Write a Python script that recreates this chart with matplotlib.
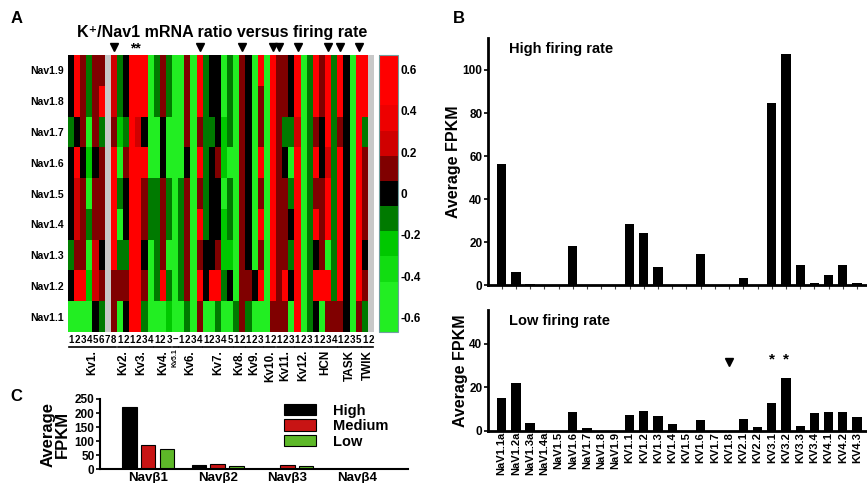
import numpy as np
import matplotlib.pyplot as plt
from matplotlib.colors import ListedColormap, BoundaryNorm
from matplotlib.transforms import blended_transform_factory

plt.rcParams['font.family'] = ['Liberation Sans', 'DejaVu Sans']
plt.rcParams['font.weight'] = 'bold'

nan = np.nan

# ---- panel A: K+/Nav1 ratio heatmap (rows top->bottom) ----
nav_rows = ["Nav1.9", "Nav1.8", "Nav1.7", "Nav1.6", "Nav1.5", "Nav1.4", "Nav1.3", "Nav1.2", "Nav1.1"]
kv_groups = ["Kv1.", "Kv2.", "Kv3.", "Kv4.", "Kv5.1", "Kv6.", "Kv7.", "Kv8.", "Kv9.",
             "Kv10.", "Kv11.", "Kv12.", "HCN", "TASK", "TWIK"]
kv_subunits = ["12345678", "12", "1234", "123", "–", "1234", "12345", "12", "123",
               "12", "123", "123", "1234", "1235", "12"]

ratio = [
    [0, .55, .12, -.12, .12, .12, nan, .24, -.12, 0, .55, .55, .55, -.55, -.12, .12, -.12, -.55, -.55, .12,
     -.55, .55, -.12, 0, 0, -.55, -.12, -.55, .12, 0, -.55, .55, -.55, .55, .12, .12, 0, .55, -.55, -.12,
     .55, .12, .55, -.12, .55, 0, -.55, .55, .55, nan],
    [0, .55, .12, -.12, .12, .55, nan, .24, -.12, 0, .55, .55, .55, -.55, -.12, .12, -.12, -.55, -.55, .12,
     -.55, .55, -.12, 0, 0, -.55, -.12, -.55, .12, 0, -.55, .12, -.55, .55, .12, .12, 0, .55, -.55, -.12,
     .55, .12, .55, -.12, .55, 0, -.55, .55, .55, nan],
    [-.12, 0, .12, -.55, .12, -.12, nan, .12, -.24, -.12, .55, .24, 0, -.55, -.55, 0, -.55, -.55, -.55, .12,
     -.55, .12, -.12, -.12, 0, -.24, -.12, -.55, .12, 0, -.55, .12, -.55, .55, .12, -.12, -.12, .24, -.55, -.12,
     .12, 0, .55, -.12, .12, 0, -.55, .55, -.12, nan],
    [0, .55, 0, -.24, 0, .12, nan, .55, -.55, .12, .55, .55, .55, -.55, -.55, 0, -.55, -.55, -.55, 0,
     -.55, .55, -.12, 0, .12, -.24, -.55, -.55, .12, 0, -.55, .55, -.55, .55, .12, 0, -.55, .55, -.55, -.12,
     .55, 0, .24, -.12, .55, 0, -.55, .55, .12, nan],
    [0, .24, .12, -.55, .12, .12, nan, .55, -.12, 0, .55, .55, .12, -.12, -.12, .12, -.12, -.55, -.12, .12,
     -.55, .12, -.12, 0, 0, -.55, -.12, -.55, .12, 0, -.55, .12, -.55, .55, .12, .12, -.12, .55, -.55, -.12,
     .12, .12, .55, -.12, .55, 0, -.55, .55, .12, nan],
    [0, .24, .12, -.12, .12, .12, nan, .55, -.55, 0, .55, .55, .12, -.12, -.12, .12, -.12, -.55, -.12, .12,
     -.55, .55, -.12, 0, 0, -.24, -.12, -.55, .12, 0, -.55, .55, -.55, .55, .12, .12, 0, .55, -.55, -.12,
     .55, .12, .55, -.12, .55, 0, -.55, .55, .12, nan],
    [-.12, .12, .12, -.55, .24, 0, nan, .55, -.12, -.12, .55, .55, 0, -.55, -.12, .12, -.55, -.55, -.12, .12,
     -.55, .12, 0, 0, .12, -.24, -.24, -.55, .12, 0, -.55, .12, -.55, .55, .12, .12, -.12, .55, -.55, -.12,
     0, .12, -.55, -.12, .55, 0, -.55, .55, 0, nan],
    [0, .55, .55, -.24, .24, .12, nan, .12, .12, .12, .55, .55, .12, -.55, -.12, .55, -.12, -.55, -.12, .12,
     -.55, .55, 0, .55, .55, -.12, 0, -.55, .12, .12, 0, .55, -.55, .55, .12, .55, 0, .55, -.55, -.12,
     .55, .55, .55, -.12, .55, 0, -.55, .55, .12, nan],
    [-.55, -.55, -.55, -.55, 0, -.12, nan, .12, -.55, 0, .55, .55, -.12, -.55, -.55, -.55, -.24, -.55, -.55, -.12,
     -.55, .12, -.55, -.55, -.12, -.55, -.55, -.12, .12, -.12, -.55, -.55, -.55, .12, .12, .12, -.55, .55, -.55, -.12,
     0, -.55, .12, .12, .12, 0, -.55, .12, -.12, nan],
]
arrow_cols = [7, 21, 28, 33, 34, 37, 42, 44, 47]
star_cols = [10, 11]

# ---- panel B: average FPKM ----
channels = ["NaV1.1a", "NaV1.2a", "NaV1.3a", "NaV1.4a", "NaV1.5", "NaV1.6", "NaV1.7", "NaV1.8", "NaV1.9",
            "KV1.1", "KV1.2", "KV1.3", "KV1.4", "KV1.5", "KV1.6", "KV1.7", "KV1.8", "KV2.1", "KV2.2",
            "KV3.1", "KV3.2", "KV3.3", "KV3.4", "KV4.1", "KV4.2", "KV4.3"]
high_fpkm = [56.5, 6.2, 0.9, 0, 0, 18.1, 0, 0, 0, 28.5, 24.3, 8.5, 0, 0, 14.7, 0, 0, 3.3, 0,
             84.9, 107.2, 9.3, 1.1, 5.0, 9.5, 1.1]
low_fpkm = [15.2, 21.8, 3.7, 0, 0, 8.6, 1.2, 0, 0, 7.4, 9.1, 6.9, 2.9, 0, 5.1, 0, 0, 5.5, 1.8,
            12.8, 24.5, 2.2, 8.0, 8.5, 8.5, 6.3]

# ---- panel C: Nav beta subunits ----
beta_names = ["Navβ1", "Navβ2", "Navβ3", "Navβ4"]
beta_high = [222, 17, 0, 0]
beta_medium = [88, 20, 14, 0]
beta_low = [73, 10, 13, 0]

fig = plt.figure(figsize=(8.67, 4.83), dpi=100)

# heatmap
axA = fig.add_axes([0.0784, 0.3126, 0.353, 0.5735])
bounds = [-0.67, -0.43, -0.3, -0.18, -0.06, 0.06, 0.18, 0.3, 0.43, 0.67]
cmap = ListedColormap(['#22EE22', '#11DD11', '#00C800', '#007A00', '#000000',
                       '#800000', '#D00000', '#EE0000', '#FF0000'])
cmap.set_bad('#C8C8C8')
norm = BoundaryNorm(bounds, cmap.N)
data = np.ma.masked_invalid(np.array(ratio))
mesh = axA.pcolormesh(data, cmap=cmap, norm=norm)
axA.set_xlim(0, data.shape[1])
axA.set_ylim(data.shape[0], 0)
axA.set_yticks(np.arange(len(nav_rows)) + 0.5)
axA.set_yticklabels(nav_rows, fontsize=7.5, fontweight='bold')
axA.set_xticks([])
axA.tick_params(axis='y', length=0, pad=3)
for s in axA.spines.values():
    s.set_visible(False)

tr = blended_transform_factory(axA.transData, axA.transAxes)
col = 0
for name, subs in zip(kv_groups, kv_subunits):
    n = len(subs)
    for k, ch in enumerate(subs):
        axA.text(col + k + 0.5, -0.03, ch, transform=tr, ha='center', va='center',
                 fontsize=7, fontweight='bold')
    axA.plot([col + 0.1, col + n - 0.1], [-0.055, -0.055], color='black', lw=1.2,
             transform=tr, clip_on=False)
    if name == "Kv5.1":
        axA.text(col + 0.5, -0.06, name, transform=tr, ha='center', va='top',
                 rotation=90, fontsize=5, fontweight='bold')
    else:
        axA.text(col + n / 2, -0.065, name, transform=tr, ha='center', va='top',
                 rotation=90, fontsize=8.5, fontweight='bold')
    col += n

axA.plot(np.array(arrow_cols) + 0.5, [1.03] * len(arrow_cols), 'v', color='black',
         markersize=5.5, transform=tr, clip_on=False)
axA.text(np.mean(star_cols) + 0.5, 1.025, "**", transform=tr, ha='center', va='center',
         fontsize=10, fontweight='bold')

cax = fig.add_axes([0.437, 0.3126, 0.022, 0.5735])
cb = fig.colorbar(mesh, cax=cax, boundaries=bounds, spacing='proportional',
                  ticks=[0.6, 0.4, 0.2, 0, -0.2, -0.4, -0.6])
cb.ax.set_yticklabels(["0.6", "0.4", "0.2", "0", "-0.2", "-0.4", "-0.6"], fontsize=8.5, fontweight='bold')
cb.ax.tick_params(length=0, pad=2)
cb.ax.minorticks_off()
cb.outline.set_edgecolor('#70A0A0')

fig.text(0.256, 0.932, "K⁺/Nav1 mRNA ratio versus firing rate", ha='center', va='center',
         fontsize=11.5, fontweight='bold')
fig.text(0.012, 0.962, "A", fontsize=12, fontweight='bold', va='center')
fig.text(0.522, 0.962, "B", fontsize=12, fontweight='bold', va='center')
fig.text(0.012, 0.18, "C", fontsize=12, fontweight='bold', va='center')

# panel B
x = np.arange(len(channels))
axH = fig.add_axes([0.5629, 0.409, 0.4371, 0.513])
axH.bar(x, high_fpkm, width=0.65, color='black')
axH.set_xlim(-0.96, 25.7)
axH.set_ylim(0, 115)
axH.set_yticks([0, 20, 40, 60, 80, 100])
axH.set_xticks(x)
axH.set_xticklabels([])
axH.tick_params(axis='x', length=3, width=0.8, color='#444444')
axH.text(0.5, 113, "High firing rate", fontsize=10.5, fontweight='bold', va='top')

axL = fig.add_axes([0.5629, 0.1083, 0.4371, 0.25])
axL.bar(x, low_fpkm, width=0.65, color='black')
axL.set_xlim(-0.96, 25.7)
axL.set_ylim(0, 55.7)
axL.set_yticks([0, 20, 40])
axL.set_xticks(x)
axL.set_xticklabels(channels, rotation=90, fontsize=8, fontweight='bold')
axL.tick_params(axis='x', length=0, pad=1)
axL.text(0.5, 54, "Low firing rate", fontsize=10.5, fontweight='bold', va='top')
axL.plot([16], [31.5], 'v', color='black', markersize=6)
for c in [19, 20]:
    axL.text(c, 33, "*", ha='center', va='center', fontsize=11, fontweight='bold')

for ax in (axH, axL):
    for side in ('top', 'right'):
        ax.spines[side].set_visible(False)
    ax.spines['left'].set_linewidth(2)
    ax.spines['bottom'].set_linewidth(2)
    ax.tick_params(axis='y', labelsize=8.5, width=1.2, length=3, pad=1)
    for lab in ax.get_yticklabels():
        lab.set_fontweight('bold')
    ax.set_ylabel("Average FPKM", fontsize=11.5, fontweight='bold', labelpad=1)

# panel C
axC = fig.add_axes([0.1153, 0.0284, 0.355, 0.1456])
xb = np.arange(len(beta_names))
w = 0.21
axC.bar(xb - 0.27, beta_high, width=w, color='black', edgecolor='black', lw=0.8, label="High")
axC.bar(xb, beta_medium, width=w, color='#C81414', edgecolor='black', lw=0.8, label="Medium")
axC.bar(xb + 0.27, beta_low, width=w, color='#5DB828', edgecolor='black', lw=0.8, label="Low")
axC.set_xlim(-0.69, 3.73)
axC.set_ylim(0, 250)
axC.set_yticks([0, 50, 100, 150, 200, 250])
axC.set_xticks(xb)
axC.set_xticklabels(beta_names, fontsize=9.5, fontweight='bold')
axC.tick_params(axis='x', length=0, pad=2)
axC.tick_params(axis='y', labelsize=8.5, width=1.2, length=3, pad=1)
for lab in axC.get_yticklabels():
    lab.set_fontweight('bold')
for side in ('top', 'right'):
    axC.spines[side].set_visible(False)
axC.spines['left'].set_linewidth(1.5)
axC.spines['bottom'].set_linewidth(1.5)
axC.set_ylabel("Average\nFPKM", fontsize=12, fontweight='bold', labelpad=3, linespacing=0.95)
axC.legend(loc='upper right', bbox_to_anchor=(0.98, 1.12), frameon=False,
           handlelength=2.2, handleheight=0.8, labelspacing=0.1, handletextpad=1.2,
           prop={'weight': 'bold', 'size': 10.5})

fig.savefig("out.png", dpi=100)
